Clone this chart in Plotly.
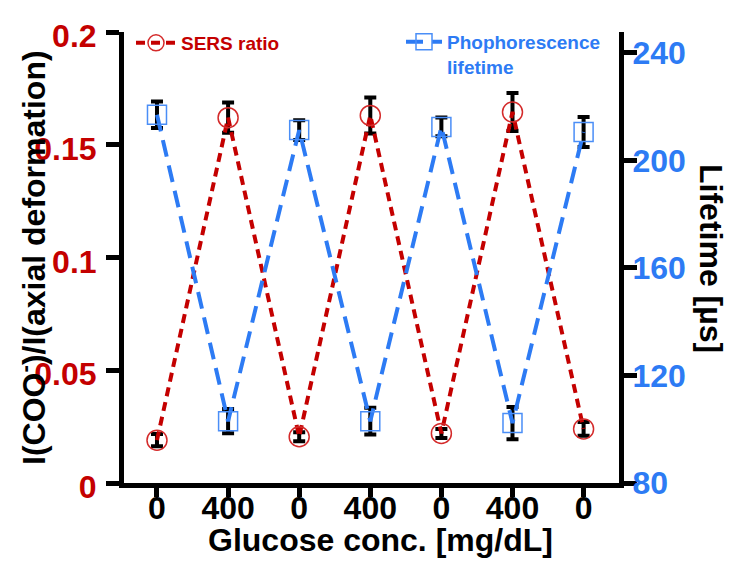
import plotly.graph_objects as go

# ---- data ----
categories = ["0", "400", "0", "400", "0", "400", "0"]
positions = [0, 1, 2, 3, 4, 5, 6]
sers_ratio = [0.019, 0.162, 0.0205, 0.163, 0.022, 0.1645, 0.024]
sers_err = [0.0027, 0.0067, 0.002, 0.008, 0.002, 0.0084, 0.003]
lifetime = [217.0, 103.0, 211.3, 103.0, 212.5, 102.3, 210.6]
lifetime_err = [4.9, 4.5, 3.7, 5.0, 3.5, 6.0, 5.6]
left_ticks = [0, 0.05, 0.1, 0.15, 0.2]
left_ticktext = ["0", "0.05", "0.1", "0.15", "0.2"]
right_ticks = [80, 120, 160, 200, 240]

RED = "#C40000"
RED_MK = "#D42A2A"
BLUE = "#2D7BF4"
BLUE_MK = "#4A8EF7"
FONT = "Liberation Sans, Arial, sans-serif"

fig = go.Figure()

fig.add_trace(go.Scatter(
    x=positions, y=lifetime, name="Phophorescence<br>lifetime",
    yaxis="y2", mode="lines+markers",
    line=dict(color=BLUE, width=4, dash="17px,9px"),
    marker=dict(symbol="square-open", size=19, color=BLUE_MK, line=dict(width=1.5, color=BLUE_MK)),
    error_y=dict(type="data", array=lifetime_err, color="black", thickness=4, width=6),
    legend="legend2", showlegend=True,
))

fig.add_trace(go.Scatter(
    x=positions, y=sers_ratio, name="SERS ratio",
    mode="lines+markers",
    line=dict(color=RED, width=4, dash="9px,6px"),
    marker=dict(symbol="circle-open", size=20, color=RED_MK, line=dict(width=1.5, color=RED_MK)),
    error_y=dict(type="data", array=sers_err, color="black", thickness=4, width=6),
    legend="legend", showlegend=True,
))

L, R, T, B = 124, 115, 32, 81
pw = 734 - L - R
ph = 564 - T - B


def px_x(v):
    return (v - L) / pw


def px_y(v):
    return 1 - (v - T) / ph


fig.update_layout(
    width=734, height=564,
    showlegend=True,
    margin=dict(l=L, r=R, t=T, b=B),
    paper_bgcolor="white", plot_bgcolor="white",
    font=dict(family=FONT, size=32, color="black", weight="bold"),
    xaxis=dict(
        range=[-0.464, 6.498], tickmode="array", tickvals=positions, ticktext=categories,
        showline=True, linecolor="black", linewidth=5, mirror=False,
        ticks="outside", ticklen=9, tickwidth=5, tickcolor="black",
        showgrid=False, zeroline=False, ticklabelstandoff=-16,
        tickfont=dict(family=FONT, size=32, color="black", weight="bold"),
    ),
    yaxis=dict(
        range=[0, 0.2], tickmode="array", tickvals=left_ticks, ticktext=left_ticktext,
        showline=True, linecolor="black", linewidth=5,
        ticks="outside", ticklen=13, tickwidth=5, tickcolor="black",
        showgrid=False, zeroline=False, ticklabelshift=4, ticklabelstandoff=3,
        tickfont=dict(family=FONT, size=32, color=RED, weight="bold"),
    ),
    yaxis2=dict(
        range=[80, 247.8], overlaying="y", side="right", tickmode="array", tickvals=right_ticks,
        showline=True, linecolor="black", linewidth=5,
        ticks="outside", ticklen=13, tickwidth=5, tickcolor="black",
        showgrid=False, zeroline=False, ticklabelstandoff=-11,
        tickfont=dict(family=FONT, size=32, color=BLUE, weight="bold"),
    ),
    legend=dict(
        x=px_x(131), y=px_y(24), xanchor="left", yanchor="top", bgcolor="rgba(0,0,0,0)",
        font=dict(family=FONT, size=19, color=RED, weight="bold"),
        itemwidth=40, tracegroupgap=0,
    ),
    legend2=dict(
        x=px_x(401), y=px_y(23), xanchor="left", yanchor="top", bgcolor="rgba(0,0,0,0)",
        font=dict(family=FONT, size=19, color=BLUE, weight="bold"),
        itemwidth=36, valign="top", tracegroupgap=0,
    ),
    annotations=[
        dict(text="Glucose conc. [mg/dL]", x=px_x(380), y=px_y(540), xref="paper", yref="paper",
             xanchor="center", yanchor="middle",
             showarrow=False, font=dict(family=FONT, size=32, color="black", weight="bold")),
        dict(text="I(COO<sup>-</sup>)/I(axial deformation)", x=px_x(32), y=px_y(258),
             xref="paper", yref="paper", xanchor="center", yanchor="middle",
             textangle=-90, showarrow=False,
             font=dict(family=FONT, size=32, color="black", weight="bold")),
        dict(text="Lifetime [µs]", x=px_x(711), y=px_y(258), xref="paper", yref="paper",
             xanchor="center", yanchor="middle",
             textangle=90, showarrow=False,
             font=dict(family=FONT, size=32, color="black", weight="bold")),
    ],
)

fig.write_html("out.html")
